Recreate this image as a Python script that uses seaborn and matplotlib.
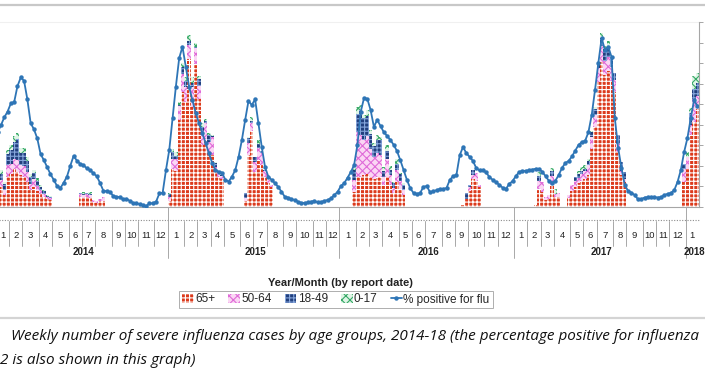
import numpy as np
import pandas as pd
import matplotlib
matplotlib.use("Agg")
import matplotlib.pyplot as plt
from matplotlib.patches import Patch
from matplotlib.lines import Line2D
import seaborn as sns

# --- data: one value per report week, first week ends 2014-01-04 ---
pct_positive = [
    18.2, 19.9, 21.8, 23.2, 25.2, 25.5, 29.4, 31.5, 30.7, 26.2,
    20.4, 18.9, 16.7, 12.9, 11.4, 9.7, 8.0, 6.6, 5.1, 4.6,
    5.9, 7.4, 10.0, 12.4, 11.3, 10.5, 10.2, 9.4, 9.0, 8.2,
    7.5, 5.9, 4.0, 3.8, 3.7, 2.7, 2.5, 2.4, 1.9, 2.0,
    1.5, 1.0, 0.9, 0.7, 0.4, 0.2, 0.9, 0.9, 1.3, 3.3,
    3.5, 9.0, 13.9, 21.6, 29.3, 36.2, 39.0, 34.1, 29.3, 26.0,
    22.9, 20.4, 18.0, 15.6, 13.1, 10.7, 9.0, 8.6, 8.3, 6.6,
    6.2, 7.4, 9.0, 12.2, 16.3, 21.2, 25.8, 24.8, 26.2, 20.4,
    14.7, 9.8, 7.4, 6.6, 5.8, 4.9, 3.7, 2.5, 2.3, 1.9,
    1.7, 1.3, 1.0, 1.0, 1.1, 1.3, 1.5, 1.1, 1.2, 1.5,
    1.7, 2.1, 2.9, 3.7, 5.1, 5.8, 7.1, 8.5, 10.2, 15.1,
    23.1, 26.5, 26.3, 23.6, 19.5, 21.2, 19.7, 18.2, 17.3, 16.3,
    15.1, 13.6, 11.4, 9.0, 6.6, 4.6, 3.4, 3.2, 3.4, 4.9,
    5.1, 3.6, 3.8, 4.1, 4.4, 4.4, 4.6, 6.6, 7.5, 7.8,
    12.6, 14.6, 13.1, 12.2, 11.2, 9.5, 8.9, 9.0, 8.4, 7.3,
    6.6, 6.0, 5.4, 4.7, 4.4, 5.6, 6.3, 7.5, 8.5, 8.8,
    8.8, 8.9, 9.1, 9.3, 9.2, 8.6, 7.5, 6.4, 5.9, 6.4,
    7.8, 9.5, 10.7, 11.2, 12.3, 13.7, 15.1, 15.8, 16.1, 18.2,
    22.4, 28.5, 35.0, 41.1, 38.2, 39.0, 36.5, 21.6, 14.4, 9.5,
    5.4, 3.9, 3.5, 2.9, 1.9, 1.9, 2.3, 2.4, 2.4, 2.4,
    2.3, 2.4, 2.9, 3.2, 3.4, 4.1, 6.1, 9.0, 13.4, 16.8,
    21.6, 26.0, 24.6,
]
n_weeks = len(pct_positive)

# weeks (index from first week of 2014) that have severe case reports
bar_weeks = (list(range(0, 17)) + list(range(25, 33)) + list(range(52, 69))
             + list(range(75, 84)) + list(range(108, 124)) + list(range(141, 147))
             + list(range(163, 171)) + list(range(173, 191)) + list(range(208, 213)))

cases_65 = [16, 20, 12, 30, 33, 38, 35, 32, 30, 25, 17, 20, 16, 13, 10, 8, 7,
            10, 9, 10, 9, 5, 4, 6, 6,
            6, 38, 36, 87, 115, 105, 148, 100, 143, 108, 62, 68, 55, 52, 36, 30, 28,
            6, 52, 76, 35, 47, 42, 30, 24, 20,
            15, 30, 30, 32, 33, 30, 28, 30, 30, 22, 30, 22, 14, 25, 18, 12,
            2, 8, 16, 28, 26, 20,
            2, 18, 15, 7, 8, 22, 10, 10,
            9, 16, 20, 24, 26, 28, 32, 58, 80, 125, 145, 132, 136, 126, 115, 55, 32, 25,
            25, 38, 72, 85, 98]
cases_50 = [6, 7, 5, 12, 10, 10, 12, 10, 11, 10, 6, 8, 5, 4, 3, 2, 2,
            3, 3, 3, 3, 2, 2, 2, 4,
            4, 10, 12, 14, 18, 15, 14, 20, 16, 13, 12, 16, 10, 18, 4, 4, 3,
            3, 12, 8, 10, 12, 12, 6, 3, 2,
            12, 45, 42, 35, 38, 28, 22, 24, 22, 8, 18, 10, 5, 12, 8, 5,
            0, 0, 4, 4, 8, 2,
            0, 8, 10, 3, 4, 9, 3, 4,
            3, 6, 6, 5, 7, 8, 10, 12, 12, 14, 16, 14, 14, 14, 12, 8, 4, 3,
            13, 12, 10, 23, 13]
cases_18 = [5, 6, 6, 11, 14, 17, 21, 12, 13, 11, 7, 6, 5, 3, 3, 1, 1,
            1, 1, 1, 1, 0, 0, 0, 0,
            3, 7, 3, 1, 7, 6, 4, 4, 1, 7, 6, 2, 7, 1, 4, 1, 1,
            5, 5, 2, 5, 4, 2, 1, 0, 0,
            10, 18, 25, 22, 20, 15, 11, 13, 15, 6, 8, 5, 5, 6, 7, 5,
            0, 6, 2, 5, 0, 0,
            0, 5, 0, 0, 0, 5, 0, 0,
            0, 0, 4, 4, 3, 2, 4, 5, 6, 4, 8, 12, 11, 10, 7, 9, 9, 7,
            5, 0, 12, 10, 13]
cases_0 = [3, 4, 2, 4, 5, 6, 6, 5, 5, 4, 3, 3, 3, 2, 1, 1, 1,
           0, 2, 0, 2, 0, 0, 0, 0,
           1, 3, 4, 3, 4, 4, 6, 6, 4, 3, 4, 2, 2, 1, 1, 0, 0,
           0, 1, 4, 0, 4, 0, 0, 0, 0,
           4, 7, 5, 3, 6, 4, 3, 5, 3, 4, 6, 4, 1, 5, 1, 2,
           0, 0, 0, 0, 0, 0,
           0, 4, 0, 0, 0, 3, 5, 0,
           0, 0, 0, 3, 4, 4, 2, 1, 2, 2, 5, 3, 5, 0, 0, 0, 0, 0,
           0, 5, 5, 13, 10]

age_groups = ["65+", "50-64", "18-49", "0-17"]
face = {"65+": "#dc3a1c", "50-64": "#fbd6f4", "18-49": "#22407e", "0-17": "#dff5e6"}
hatch_col = {"65+": "#ffffff", "50-64": "#df6bd8", "18-49": "#86a6dc", "0-17": "#35a866"}
hatch = {"65+": "++++", "50-64": "xxxx", "18-49": "++++", "0-17": "xxxx"}
line_col = "#2e75b6"

df = pd.DataFrame({"week": bar_weeks, "65+": cases_65, "50-64": cases_50,
                   "18-49": cases_18, "0-17": cases_0})
weeks = np.arange(n_weeks)
week_end = pd.Timestamp("2014-01-04") + pd.to_timedelta(7 * weeks, unit="D")

sns.set_style("white")
plt.rcParams["font.family"] = ["Liberation Sans", "DejaVu Sans"]
plt.rcParams["hatch.linewidth"] = 0.8

W, H = 705, 370
fig = plt.figure(figsize=(W / 100, H / 100), dpi=100)
ax = fig.add_axes([-4 / W, 163 / H, 703 / W, 185 / H])

# stacked bars: draw the cumulative totals, tallest first
for i in range(len(age_groups), 0, -1):
    cols = age_groups[:i]
    n0 = len(ax.patches)
    sns.barplot(x=df["week"], y=df[cols].sum(axis=1), native_scale=True, width=1,
                color=face[cols[-1]], saturation=1, errorbar=None, ax=ax)
    for p in ax.patches[n0:]:
        p.set_hatch(hatch[cols[-1]])
        p.set_edgecolor(hatch_col[cols[-1]])
        p.set_linewidth(0)

ax2 = ax.twinx()
sns.lineplot(x=weeks, y=pct_positive, ax=ax2, color=line_col, linewidth=1.3,
             marker="o", markersize=3.2, markeredgewidth=0)

ax.set_xlim(-0.5, n_weeks - 0.5)
ax.set_ylim(0, 185)
ax2.set_ylim(0, 45)
ax.set_xlabel("")
ax.set_ylabel("")
ax2.set_ylabel("")

grey = "#a6a6a6"
ax.spines["left"].set_visible(False)
ax2.spines["left"].set_visible(False)
ax.spines["top"].set_color("#f0f0f0")
ax2.spines["top"].set_visible(False)
ax.spines["right"].set_visible(False)
ax.spines["bottom"].set_color(grey)
ax.spines["bottom"].set_linewidth(0.8)
ax2.spines["right"].set_color(grey)
ax2.spines["right"].set_linewidth(0.8)
ax2.spines["bottom"].set_visible(False)

ax.set_xticks(np.arange(-0.5, n_weeks, 1))
ax.tick_params(axis="x", direction="out", length=9.4, width=0.5, color="#a0a0a0",
               labelbottom=False)
ax.tick_params(axis="y", left=False, labelleft=False)
ax2.set_yticks(np.arange(0, 46, 5))
ax2.tick_params(axis="y", direction="out", length=3, width=0.7, color=grey,
                labelright=False)

# multi-level category axis (month / year)
trans = ax.get_xaxis_transform()


def ya(ypix):
    return (207 - ypix) / 185


ax.plot([-0.5, n_weeks - 0.5], [ya(220), ya(220)], transform=trans, clip_on=False,
        color="#8c8c8c", lw=0.8, ls=(0, (1, 1.4)))
cal = pd.DataFrame({"y": week_end.year, "m": week_end.month, "i": weeks})
months = cal.groupby(["y", "m"])["i"].agg(["min", "max"])
for (yr, mo), r in months.iterrows():
    ax.text((r["min"] + r["max"]) / 2, ya(236), str(mo), transform=trans,
            ha="center", va="center", fontsize=6.8, color="#222222")
    if mo != 1:
        ax.plot([r["min"] - 0.5] * 2, [ya(221), ya(246)], transform=trans,
                clip_on=False, color="#9a9a9a", lw=0.6)
years = cal.groupby("y")["i"].agg(["min", "max"])
for yr, r in years.iterrows():
    ax.text((r["min"] + r["max"]) / 2 + 0.5, ya(252), str(yr), transform=trans,
            ha="center", va="center", fontsize=7, fontweight="bold", color="#222222")
    if r["min"] > 0:
        ax.plot([r["min"] - 0.5] * 2, [ya(207), ya(258)], transform=trans,
                clip_on=False, color="#9a9a9a", lw=0.6)

fig.text(340 / W, 1 - 283 / H, "Year/Month (by report date)", ha="center",
         va="center", fontsize=8, fontweight="bold", color="#222222")

handles = [Patch(facecolor=face[g], edgecolor=hatch_col[g], hatch=hatch[g], lw=0)
           for g in age_groups]
handles.append(Line2D([], [], color=line_col, lw=1.3, marker="o", markersize=3.2,
                      markeredgewidth=0))
labels = age_groups + ["% positive for flu"]
leg = fig.legend(handles, labels, loc="center", bbox_to_anchor=(336 / W, 1 - 299.5 / H),
                 ncol=5, fontsize=8.5, frameon=True, fancybox=False, edgecolor="#9a9a9a",
                 handlelength=1.0, handleheight=0.8, handletextpad=0.1,
                 columnspacing=1.1, borderpad=0.25)
leg.get_frame().set_linewidth(0.7)

# frame lines of the page and the caption
fig.add_artist(Line2D([0, 1], [1 - 4.5 / H] * 2, color="#c8c8c8", lw=1.6))
fig.add_artist(Line2D([0, 1], [1 - 318 / H] * 2, color="#d4d4d4", lw=1.6))
fig.text(11 / W, 1 - 337 / H,
         "Weekly number of severe influenza cases by age groups, 2014-18 (the percentage positive for influenza",
         fontsize=11, style="italic", family=["Open Sans", "DejaVu Sans"], va="center",
         color="#111111")
fig.text(0 / W, 1 - 360 / H, "2 is also shown in this graph)", fontsize=11,
         style="italic", family=["Open Sans", "DejaVu Sans"], va="center", color="#111111")

fig.savefig("out.png", dpi=100)
